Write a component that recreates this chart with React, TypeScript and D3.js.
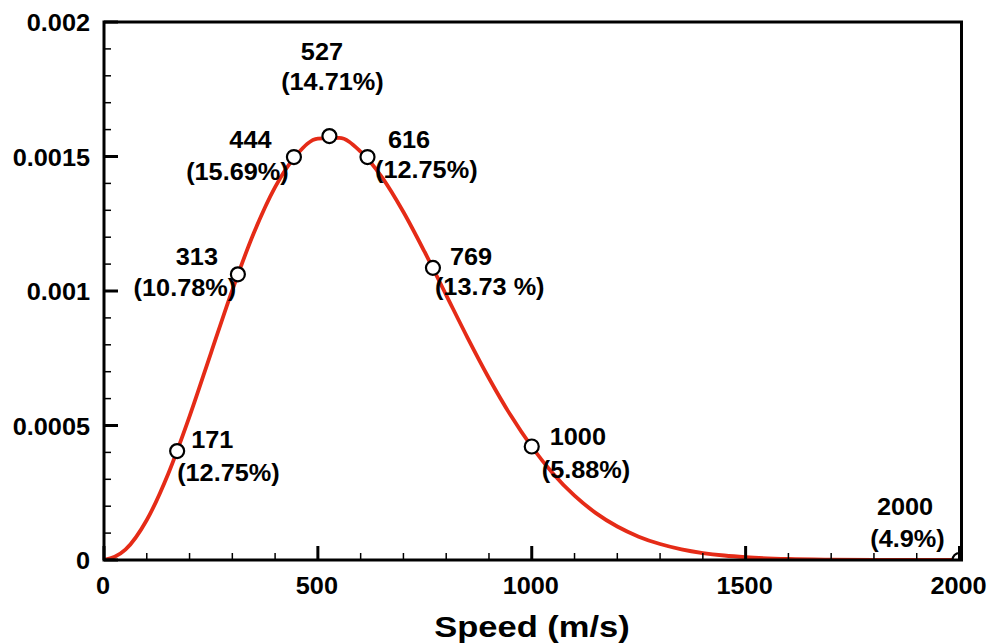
import React from "react";
import * as d3 from "d3";

// Curve (speed m/s, probability density)
const curveSpeed = [0, 50, 100, 150, 200, 250, 300, 350, 400, 450, 500, 550, 600, 650, 700, 750, 800, 850, 900, 950, 1000, 1050, 1100, 1150, 1200, 1250, 1300, 1350, 1400, 1450, 1500, 1600, 1700, 1800, 1900, 2000];
const curveDensity = [0, 0.0000382, 0.0001487, 0.0003199, 0.0005339, 0.0007693, 0.0010033, 0.0012148, 0.0013864, 0.0015056, 0.0015666, 0.0015691, 0.0015181, 0.0014227, 0.0012939, 0.0011441, 0.0009848, 0.000826, 0.0006757, 0.0005396, 0.000421, 0.0003209, 0.0002391, 0.0001743, 0.0001244, 0.0000868, 0.0000594, 0.0000397, 0.000026, 0.0000167, 0.0000105, 0.0000039, 0.0000014, 0.0000004, 0.0000001, 0];

// Marked points
const markSpeed = [171, 313, 444, 527, 616, 769, 1000, 2000];
const markDensity = [0.000405, 0.001062, 0.001498, 0.001576, 0.001498, 0.001086, 0.000422, 0];
const markPercent = ["(12.75%)", "(10.78%)", "(15.69%)", "(14.71%)", "(12.75%)", "(13.73 %)", "(5.88%)", "(4.9%)"];

const xTickLabels = [0, 500, 1000, 1500, 2000];
const yTickLabels = ["0", "0.0005", "0.001", "0.0015", "0.002"];
const yTickValues = [0, 0.0005, 0.001, 0.0015, 0.002];

// label layout: [dx first line, dy first baseline, anchor, dx second line, dy second baseline]
const labelLayout: [number, number, string, number, number][] = [
  [14, -3, "start", 0, 30],
  [-41, -9, "middle", -53, 22],
  [-43.5, -9, "middle", -56.5, 23],
  [-7.5, -76, "middle", 3, -46],
  [20.5, -9, "start", 7.5, 21],
  [17, -3, "start", 2, 27],
  [18, -1.5, "start", 10, 32],
  [-54.5, -45, "middle", -52, -13],
];

const FONT = "'Liberation Sans', Arial, Helvetica, sans-serif";

function T({ x, y, text, size, anchor = "middle", sx = 1.1 }: { x: number; y: number; text: string; size: number; anchor?: string; sx?: number }) {
  return (
    <text
      transform={`translate(${x},${y}) scale(${sx},1)`}
      textAnchor={anchor as any}
      fontFamily={FONT}
      fontWeight="bold"
      fontSize={size}
      fill="#000"
    >
      {text}
    </text>
  );
}

export default function App() {
  const W = 990, H = 643;
  const left = 104, right = 959.5, top = 22, bottom = 560;
  const x = d3.scaleLinear().domain([0, 2000]).range([left, right]);
  const y = d3.scaleLinear().domain([0, 0.002]).range([bottom, top]);

  const pts = curveSpeed.map((s, i) => [s, curveDensity[i]] as [number, number]);
  const line = d3.line<[number, number]>().x(d => x(d[0])).y(d => y(d[1])).curve(d3.curveMonotoneX);

  const xMinor = d3.range(0, 2001, 100);
  const yMinor = d3.range(0, 21).map(i => i * 0.0001);

  return (
    <svg width={W} height={H} style={{ position: "absolute", left: 0, top: 0, background: "#fff" }}>
      <defs>
        <clipPath id="plot">
          <rect x={left} y={top} width={right - left} height={bottom - top} />
        </clipPath>
      </defs>
      <rect x={0} y={0} width={W} height={H} fill="#fff" />
      <g clipPath="url(#plot)">
        <path d={line(pts) || ""} fill="none" stroke="#e52b17" strokeWidth={3.8} />
        {markSpeed.map((s, i) => (
          <circle key={i} cx={x(s)} cy={y(markDensity[i])} r={7} fill="#fff" stroke="#000" strokeWidth={2.2} />
        ))}
      </g>
      {xMinor.map((v, i) => {
        const major = v % 500 === 0;
        return <line key={"xt" + i} x1={x(v)} x2={x(v)} y1={bottom} y2={bottom - (major ? 14 : 7)} stroke="#000" strokeWidth={major ? 3 : 1.5} />;
      })}
      {yMinor.map((v, i) => {
        const major = i % 5 === 0;
        return <line key={"yt" + i} x1={left} x2={left + (major ? 14 : 7)} y1={y(v)} y2={y(v)} stroke="#000" strokeWidth={major ? 3 : 1.5} />;
      })}
      <rect x={left} y={top} width={right + 2 - left} height={bottom - top} fill="none" stroke="#000" strokeWidth={3} />
      {xTickLabels.map((v, i) => (
        <T key={"xl" + i} x={x(v) - 1} y={594} text={String(v)} size={23} sx={1.1} />
      ))}
      {yTickValues.map((v, i) => (
        <T key={"yl" + i} x={90} y={y(v) + 9} text={yTickLabels[i]} size={23} anchor="end" sx={1.1} />
      ))}
      <T x={532} y={637} text="Speed (m/s)" size={30} sx={1.15} />
      {markSpeed.map((s, i) => {
        const [dx1, dy1, anc, dx2, dy2] = labelLayout[i];
        const cx = x(s), cy = y(markDensity[i]);
        return (
          <g key={"lab" + i}>
            <T x={cx + dx1} y={cy + dy1} text={String(s)} size={23} anchor={anc} />
            <T x={cx + dx2} y={cy + dy2} text={markPercent[i]} size={23} anchor={anc} />
          </g>
        );
      })}
    </svg>
  );
}
